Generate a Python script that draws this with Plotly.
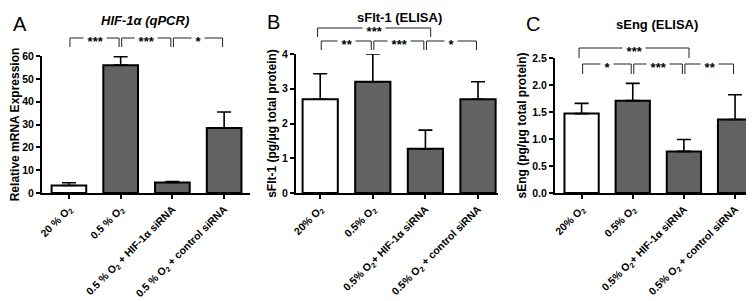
import plotly.graph_objects as go

# ---------------- data ----------------
cats_A = ["20 % O<sub>2</sub>", "0.5 % O<sub>2</sub>",
          "0.5 % O<sub>2</sub> + HIF-1α siRNA", "0.5 % O<sub>2</sub> + control siRNA"]
cats_BC = ["20% O<sub>2</sub>", "0.5% O<sub>2</sub>",
           "0.5% O<sub>2</sub>+ HIF-1α siRNA", "0.5% O<sub>2</sub> + control siRNA"]

A_mean = [3.3, 56.0, 4.6, 28.5]
A_err = [1.2, 3.7, 0.4, 7.0]
B_mean = [2.70, 3.20, 1.27, 2.70]
B_err = [0.73, 0.80, 0.54, 0.50]
C_mean = [1.47, 1.71, 0.77, 1.36]
C_err = [0.19, 0.32, 0.22, 0.46]

A_ticks = [0, 10, 20, 30, 40, 50, 60]
B_ticks = [0, 1, 2, 3, 4]
C_ticks = [0.0, 0.5, 1.0, 1.5, 2.0, 2.5]

# comparisons: (i, j, stars, level)
A_comp = [(0, 1, "***", 0), (1, 2, "***", 0), (2, 3, "*", 0)]
B_comp = [(0, 2, "***", 1), (0, 1, "**", 0), (1, 2, "***", 0), (2, 3, "*", 0)]
C_comp = [(0, 2, "***", 1), (0, 1, "*", 0), (1, 2, "***", 0), (2, 3, "**", 0)]

titles = ["<b><i>HIF-1α (qPCR)</i></b>", "<b>sFlt-1 (ELISA)</b>", "<b>sEng (ELISA)</b>"]
ytitles = ["Relative mRNA Expression", "sFlt-1 (pg/μg total protein)", "sEng (pg/μg total protein)"]
letters = ["A", "B", "C"]

# ---------------- layout constants ----------------
W, H = 754, 301
FONT = "Arial, Liberation Sans, sans-serif"
GREY = "#626262"

def py(p):  # pixel-from-top to paper fraction
    return (H - p) / H

panels = [
    dict(cats=cats_A, mean=A_mean, err=A_err, ticks=A_ticks, comp=A_comp,
         xdom=[34 / W, 242 / W], ydom=[py(185), py(48)], xr=[-0.52, 3.5],
         levels={0: (30, 39)}, fmt=None, ttl=(137, 13), let=(12, 16), ytstand=3),
    dict(cats=cats_BC, mean=B_mean, err=B_err, ticks=B_ticks, comp=B_comp,
         xdom=[288 / W, 490 / W], ydom=[py(185), py(46)], xr=[-0.46, 3.38],
         levels={0: (33, 42), 1: (20, 29)}, fmt=None, ttl=(391, 10), let=(265, 14), ytstand=3),
    dict(cats=cats_BC, mean=C_mean, err=C_err, ticks=C_ticks, comp=C_comp,
         xdom=[547 / W, 747 / W], ydom=[py(185), py(50)], xr=[-0.52, 3.39],
         levels={0: (56, 66), 1: (40, 50)}, fmt=".1f", ttl=(649, 16), let=(525, 16), ytstand=3),
]

fig = go.Figure()
shapes = []
annotations = []

for k, p in enumerate(panels):
    xa = "x" if k == 0 else f"x{k+1}"
    ya = "y" if k == 0 else f"y{k+1}"
    colors = ["white", GREY, GREY, GREY]
    fig.add_trace(go.Bar(
        x=list(range(4)), y=p["mean"], xaxis=xa, yaxis=ya, width=0.67,
        marker=dict(color=colors, line=dict(color="black", width=2)),
        error_y=dict(type="data", array=p["err"], arrayminus=[0] * 4, symmetric=False,
                     color="black", thickness=1.6, width=7),
        showlegend=False,
    ))
    axn = "" if k == 0 else str(k + 1)
    fig.update_layout(**{
        f"xaxis{axn}": dict(domain=p["xdom"], range=p["xr"], anchor=ya,
                            tickmode="array", tickvals=list(range(4)), ticktext=p["cats"],
                            tickangle=-45, showline=True, linecolor="black", linewidth=2,
                            ticks="outside", ticklen=4, tickwidth=2, tickcolor="black",
                            showgrid=False, zeroline=False, automargin=False,
                            tickfont=dict(family=FONT, size=10.5, color="black", weight="bold")),
        f"yaxis{axn}": dict(domain=p["ydom"], range=[0, p["ticks"][-1]], anchor=xa,
                            tickmode="array", tickvals=p["ticks"],
                            ticktext=[(format(t, p["fmt"]) if p["fmt"] else str(t)) for t in p["ticks"]],
                            showline=True, linecolor="black", linewidth=2,
                            ticks="outside", ticklen=4, tickwidth=2, tickcolor="black",
                            showgrid=False, zeroline=False, automargin=False,
                            tickfont=dict(family=FONT, size=10.5, color="black", weight="bold"),
                            title=dict(text=ytitles[k], standoff=p["ytstand"],
                                       font=dict(family=FONT, size=12, color="black", weight="bold"))),
    })
    # significance brackets
    for (i, j, stars, lvl) in p["comp"]:
        yh, ye = p["levels"][lvl]
        if lvl == 0:
            xl, xr = i + 0.02, j - 0.03
        else:
            xl, xr = i - 0.05, j + 0.1
        line = dict(color="#222222", width=1)
        shapes.append(dict(type="line", xref=xa, yref="paper", x0=xl, x1=xr, y0=py(yh), y1=py(yh), line=line))
        shapes.append(dict(type="line", xref=xa, yref="paper", x0=xl, x1=xl, y0=py(yh), y1=py(ye), line=line))
        shapes.append(dict(type="line", xref=xa, yref="paper", x0=xr, x1=xr, y0=py(yh), y1=py(ye), line=line))
        annotations.append(dict(xref=xa, yref="paper", x=(xl + xr) / 2, y=py(yh + 1.5), text=" " + stars + " ",
                                showarrow=False, bgcolor="white", borderpad=0,
                                height=11, valign="top",
                                xanchor="center", yanchor="middle",
                                font=dict(family=FONT, size=13, color="black", weight="bold")))
    # panel title and letter
    tx, ty = p["ttl"]
    annotations.append(dict(xref="paper", yref="paper", x=tx / W, y=py(ty), text=titles[k],
                            showarrow=False, xanchor="center", yanchor="middle",
                            font=dict(family=FONT, size=13, color="black")))
    lx, ly = p["let"]
    annotations.append(dict(xref="paper", yref="paper", x=lx / W, y=py(ly), text=letters[k],
                            showarrow=False, xanchor="center", yanchor="middle",
                            font=dict(family=FONT, size=20, color="black")))

fig.update_layout(
    width=W, height=H, margin=dict(l=0, r=0, t=0, b=0),
    template="none", paper_bgcolor="white", plot_bgcolor="white",
    shapes=shapes, annotations=annotations, bargap=0.3,
    font=dict(family=FONT, color="black"),
)
fig.write_html("out.html")
